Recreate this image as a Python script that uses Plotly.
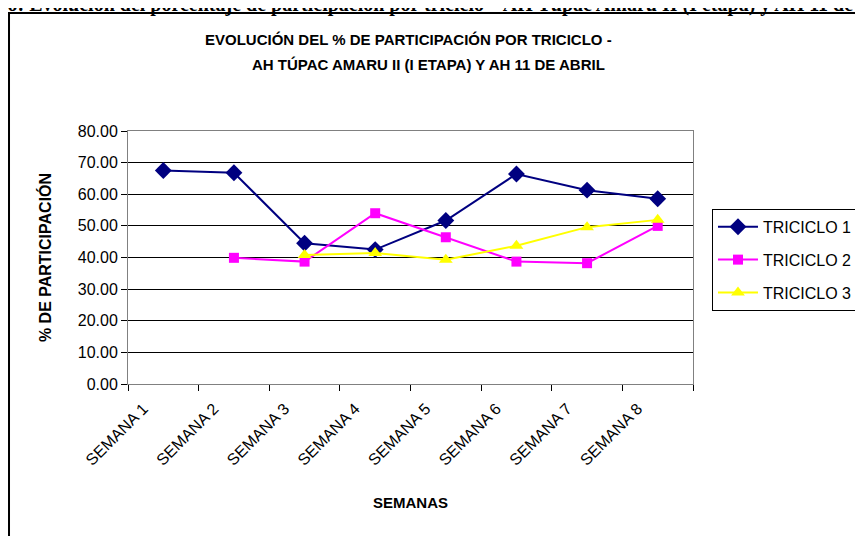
import plotly.graph_objects as go

semanas = ["SEMANA 1", "SEMANA 2", "SEMANA 3", "SEMANA 4",
           "SEMANA 5", "SEMANA 6", "SEMANA 7", "SEMANA 8"]
triciclo_1 = [67.5, 66.8, 44.5, 42.5, 51.7, 66.4, 61.3, 58.6]
triciclo_2 = [None, 39.9, 38.7, 54.0, 46.4, 38.7, 38.2, 50.0]
triciclo_3 = [None, None, 40.8, 41.4, 39.3, 43.7, 49.6, 51.9]
y_ticks = [0, 10, 20, 30, 40, 50, 60, 70, 80]

series = [
    ("TRICICLO 1", triciclo_1, "#000080", "diamond", 13),
    ("TRICICLO 2", triciclo_2, "#FF00FF", "square", 10),
    ("TRICICLO 3", triciclo_3, "#FFFF00", "triangle-up", 12),
]

fig = go.Figure()
for name, vals, color, symbol, msize in series:
    fig.add_trace(go.Scatter(
        x=semanas, y=vals, name=name, legendgroup=name,
        mode="lines+markers",
        line=dict(color=color, width=2),
        marker=dict(symbol=symbol, size=msize, color=color),
        connectgaps=False,
    ))

# outer chart frame (cut by the page on the right and bottom)
fig.add_shape(type="rect", xref="paper", yref="paper",
              x0=-0.2106, y0=-0.66, x1=1.34, y1=1.466,
              line=dict(color="black", width=2), fillcolor="rgba(0,0,0,0)", layer="below")

# caption line at the very top of the page, mostly cut off
fig.add_annotation(
    text="<b>Gráfico: Evolución del porcentaje de participación por triciclo – AH Túpac Amaru II (I etapa) y AH 11 de Abril</b>",
    xref="paper", yref="paper", x=0.53, y=1.446, xanchor="center", yanchor="bottom",
    showarrow=False, font=dict(family="Liberation Serif", size=20, color="black"))

# two-line chart title
fig.add_annotation(
    text="<b>EVOLUCIÓN DEL % DE PARTICIPACIÓN POR TRICICLO -</b>",
    xref="paper", yref="paper", x=0.496, y=1.36, xanchor="center", yanchor="middle",
    showarrow=False, font=dict(size=15))
fig.add_annotation(
    text="<b>AH TÚPAC AMARU II (I ETAPA) Y AH 11 DE ABRIL</b>",
    xref="paper", yref="paper", x=0.531, y=1.261, xanchor="center", yanchor="middle",
    showarrow=False, font=dict(size=15))

fig.update_layout(
    width=863, height=536,
    margin=dict(l=120, r=178, t=123, b=160, autoexpand=False),
    paper_bgcolor="white", plot_bgcolor="white",
    font=dict(family="Arial, Liberation Sans", color="black"),
    xaxis=dict(
        type="category", range=[-0.5, 7.5], automargin=False,
        tickangle=-45, tickson="boundaries", ticks="outside", ticklen=6,
        tickcolor="black", tickfont=dict(size=16),
        ticklabelshift=-20, ticklabelstandoff=8,
        showline=True, linecolor="#808080", linewidth=1, mirror=True,
        showgrid=False,
        title=dict(text="<b>SEMANAS</b>", font=dict(size=15), standoff=29),
    ),
    yaxis=dict(
        range=[0, 80], tickvals=y_ticks, tickformat=".2f", automargin=False,
        ticks="outside", ticklen=6, tickcolor="black", tickfont=dict(size=16),
        showline=True, linecolor="#808080", linewidth=1, mirror=True,
        showgrid=True, gridcolor="black", gridwidth=1, zeroline=False,
        title=dict(text="<b>% DE PARTICIPACIÓN</b>", font=dict(size=16), standoff=22),
    ),
    legend=dict(
        x=1.0336, xanchor="left", y=0.692, yanchor="top",
        bordercolor="black", borderwidth=1, bgcolor="white",
        font=dict(size=16), tracegroupgap=9, traceorder="grouped",
        itemwidth=40,
    ),
)

fig.write_html("out.html")
